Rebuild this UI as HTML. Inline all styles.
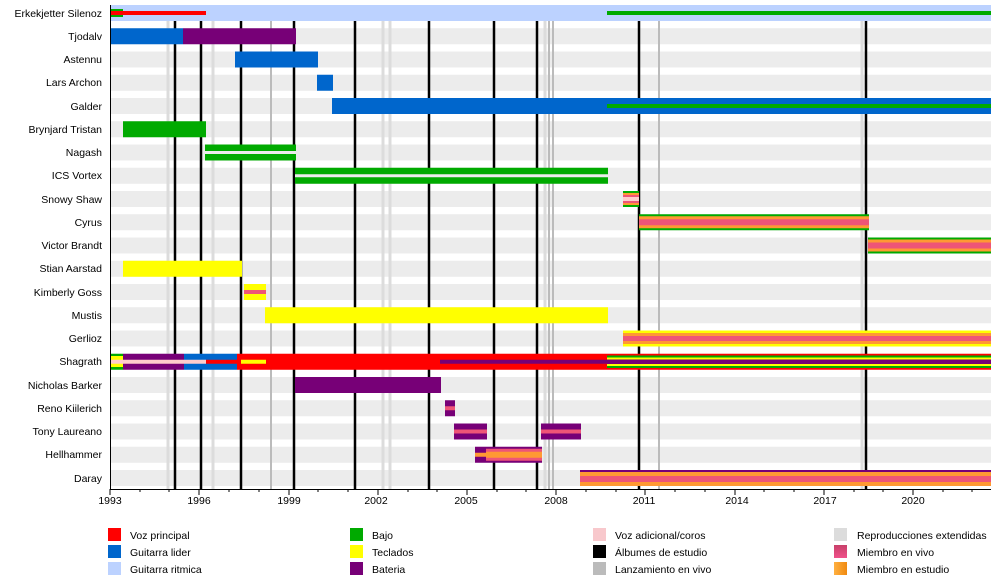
<!DOCTYPE html>
<html><head><meta charset="utf-8"><style>
body{margin:0;background:#fff;}
svg{display:block;font-family:"Liberation Sans",sans-serif;}
</style></head><body>
<svg width="1000" height="585" viewBox="0 0 1000 585" xmlns="http://www.w3.org/2000/svg">
<defs>
<linearGradient id="gLive" x1="0" y1="0" x2="0" y2="1"><stop offset="0" stop-color="#c8406a"/><stop offset="1" stop-color="#f0508a"/></linearGradient>
<linearGradient id="gStudio" x1="0" y1="0" x2="1" y2="0"><stop offset="0" stop-color="#ffb040"/><stop offset="1" stop-color="#f08a10"/></linearGradient>
</defs>
<!-- row bands -->
<g fill="#ececec">
<rect x="110" y="28.25" width="881" height="16"/><rect x="110" y="51.5" width="881" height="16"/><rect x="110" y="74.75" width="881" height="16"/><rect x="110" y="98" width="881" height="16"/><rect x="110" y="121.25" width="881" height="16"/><rect x="110" y="144.5" width="881" height="16"/><rect x="110" y="167.75" width="881" height="16"/><rect x="110" y="191" width="881" height="16"/><rect x="110" y="214.25" width="881" height="16"/><rect x="110" y="237.5" width="881" height="16"/><rect x="110" y="260.75" width="881" height="16"/><rect x="110" y="284" width="881" height="16"/><rect x="110" y="307.25" width="881" height="16"/><rect x="110" y="330.5" width="881" height="16"/><rect x="110" y="353.75" width="881" height="16"/><rect x="110" y="377" width="881" height="16"/><rect x="110" y="400.25" width="881" height="16"/><rect x="110" y="423.5" width="881" height="16"/><rect x="110" y="446.75" width="881" height="16"/><rect x="110" y="470" width="881" height="16"/>
</g>
<!-- EP lines -->
<g stroke="#dcdcdc" stroke-width="3">
<line x1="168" y1="5" x2="168" y2="489"/><line x1="213" y1="5" x2="213" y2="489"/><line x1="383" y1="5" x2="383" y2="489"/><line x1="390" y1="5" x2="390" y2="489"/><line x1="545" y1="5" x2="545" y2="489"/><line x1="862" y1="5" x2="862" y2="489"/>
</g>
<g stroke="#bbbbbb" stroke-width="2">
<line x1="271" y1="5" x2="271" y2="489"/><line x1="549" y1="5" x2="549" y2="489"/><line x1="553" y1="5" x2="553" y2="489"/><line x1="659" y1="5" x2="659" y2="489"/>
</g>
<g stroke="#000" stroke-width="2.5">
<line x1="175" y1="5" x2="175" y2="489"/><line x1="201" y1="5" x2="201" y2="489"/><line x1="241" y1="5" x2="241" y2="489"/><line x1="294" y1="5" x2="294" y2="489"/><line x1="355" y1="5" x2="355" y2="489"/><line x1="429" y1="5" x2="429" y2="489"/><line x1="494" y1="5" x2="494" y2="489"/><line x1="537" y1="5" x2="537" y2="489"/><line x1="639" y1="5" x2="639" y2="489"/><line x1="866" y1="5" x2="866" y2="489"/>
</g>
<!-- Row 0 Erkekjetter -->
<rect x="110" y="5" width="881" height="16" fill="#bcd2ff"/>
<rect x="110" y="9" width="13" height="8" fill="#00aa00"/>
<rect x="110" y="11" width="96" height="4" fill="#ff0000"/>
<rect x="607" y="11" width="384" height="4" fill="#00aa00"/>
<!-- Row1 Tjodalv -->
<rect x="110" y="28.25" width="73" height="16" fill="#0066cc"/>
<rect x="183" y="28.25" width="113" height="16" fill="#770077"/>
<!-- Row2 -->
<rect x="235" y="51.5" width="83" height="16" fill="#0066cc"/>
<!-- Row3 -->
<rect x="317" y="74.75" width="16" height="16" fill="#0066cc"/>
<!-- Row4 Galder -->
<rect x="332" y="98" width="659" height="16" fill="#0066cc"/>
<rect x="607" y="104" width="384" height="4" fill="#00aa00"/>
<!-- Row5 -->
<rect x="123" y="121.25" width="83" height="16" fill="#00aa00"/>
<!-- Row6 Nagash -->
<rect x="205" y="144.5" width="91" height="16" fill="#00aa00"/>
<rect x="205" y="151" width="91" height="3" fill="#ececec"/>
<!-- Row7 ICS -->
<rect x="295" y="167.75" width="313" height="16" fill="#00aa00"/>
<rect x="295" y="174.25" width="313" height="3" fill="#ececec"/>
<!-- Row8 Snowy -->
<rect x="623" y="191" width="16" height="16" fill="#00aa00"/>
<rect x="623" y="193" width="16" height="12" fill="#ff9933"/>
<rect x="623" y="195" width="16" height="8" fill="#ee5577"/>
<rect x="623" y="197" width="16" height="4" fill="#ffcccc"/>
<!-- Row9 Cyrus -->
<rect x="639" y="214.25" width="230" height="16" fill="#00aa00"/>
<rect x="639" y="216.25" width="230" height="12" fill="#ff9933"/>
<rect x="639" y="219.25" width="230" height="6" fill="#ee5577"/>
<!-- Row10 Victor -->
<rect x="868" y="237.5" width="123" height="16" fill="#00aa00"/>
<rect x="868" y="239.5" width="123" height="12" fill="#ff9933"/>
<rect x="868" y="242.5" width="123" height="6" fill="#ee5577"/>
<!-- Row11 Stian -->
<rect x="123" y="260.75" width="119" height="16" fill="#ffff00"/>
<!-- Row12 Kimberly -->
<rect x="244" y="284" width="22" height="16" fill="#ffff00"/>
<rect x="244" y="290" width="22" height="4" fill="#ee5577"/>
<!-- Row13 Mustis -->
<rect x="265" y="307.25" width="343" height="16" fill="#ffff00"/>
<!-- Row14 Gerlioz -->
<rect x="623" y="330.5" width="368" height="16" fill="#ffff00"/>
<rect x="623" y="333" width="368" height="11" fill="#ff9933"/>
<rect x="623" y="336" width="368" height="5" fill="#ee5577"/>
<!-- Row15 Shagrath -->
<rect x="110" y="353.75" width="13" height="16" fill="#00aa00"/>
<rect x="110" y="356" width="13" height="11" fill="#ffff00"/>
<rect x="110" y="359.75" width="13" height="4" fill="#ffcccc"/>
<rect x="123" y="353.75" width="61" height="16" fill="#770077"/>
<rect x="184" y="353.75" width="53" height="16" fill="#0066cc"/>
<rect x="237" y="353.75" width="370" height="16" fill="#ff0000"/>
<rect x="123" y="359.75" width="83" height="4" fill="#ffcccc"/>
<rect x="206" y="359.75" width="31" height="4" fill="#ff0000"/>
<rect x="241" y="359.75" width="25" height="4" fill="#ffff00"/>
<rect x="440" y="359.75" width="167" height="4" fill="#770077"/>
<rect x="607" y="353.75" width="384" height="16" fill="#ff0000"/>
<rect x="607" y="355.5" width="384" height="12.5" fill="#00aa00"/>
<rect x="607" y="357.5" width="384" height="8.5" fill="#ffff00"/>
<rect x="607" y="359.5" width="384" height="4.5" fill="#770077"/>
<!-- Row16 Nicholas -->
<rect x="295" y="377" width="146" height="16" fill="#770077"/>
<!-- Row17 Reno -->
<rect x="445" y="400.25" width="10" height="16" fill="#770077"/>
<rect x="445" y="406.25" width="10" height="4" fill="#ee5577"/>
<!-- Row18 Tony -->
<rect x="454" y="423.5" width="33" height="16" fill="#770077"/>
<rect x="454" y="429.5" width="33" height="4" fill="#ee5577"/>
<rect x="541" y="423.5" width="40" height="16" fill="#770077"/>
<rect x="541" y="429.5" width="40" height="4" fill="#ee5577"/>
<!-- Row19 Hellhammer -->
<rect x="475" y="446.75" width="67" height="16" fill="#770077"/>
<rect x="475" y="452.75" width="11" height="4" fill="#ff9933"/>
<rect x="486" y="448.75" width="56" height="12" fill="#ee5577"/>
<rect x="486" y="451.75" width="56" height="6" fill="#ff9933"/>
<!-- Row20 Daray -->
<rect x="580" y="470" width="411" height="16" fill="#770077"/>
<rect x="580" y="472" width="411" height="14" fill="#ff9933"/>
<rect x="580" y="476" width="411" height="6" fill="#ee5577"/>
<!-- axes -->
<line x1="110.5" y1="5" x2="110.5" y2="490" stroke="#000" stroke-width="1"/>
<line x1="110" y1="489.5" x2="991" y2="489.5" stroke="#000" stroke-width="1"/>
<g stroke="#000" stroke-width="1">
<line x1="110" y1="489" x2="110" y2="495"/><line x1="199" y1="489" x2="199" y2="495"/><line x1="289" y1="489" x2="289" y2="495"/><line x1="378" y1="489" x2="378" y2="495"/><line x1="467" y1="489" x2="467" y2="495"/><line x1="556" y1="489" x2="556" y2="495"/><line x1="645" y1="489" x2="645" y2="495"/><line x1="735" y1="489" x2="735" y2="495"/><line x1="824" y1="489" x2="824" y2="495"/><line x1="913" y1="489" x2="913" y2="495"/>
<line x1="140" y1="489" x2="140" y2="492"/><line x1="169" y1="489" x2="169" y2="492"/><line x1="229" y1="489" x2="229" y2="492"/><line x1="259" y1="489" x2="259" y2="492"/><line x1="318" y1="489" x2="318" y2="492"/><line x1="348" y1="489" x2="348" y2="492"/><line x1="408" y1="489" x2="408" y2="492"/><line x1="437" y1="489" x2="437" y2="492"/><line x1="497" y1="489" x2="497" y2="492"/><line x1="526" y1="489" x2="526" y2="492"/><line x1="586" y1="489" x2="586" y2="492"/><line x1="616" y1="489" x2="616" y2="492"/><line x1="675" y1="489" x2="675" y2="492"/><line x1="705" y1="489" x2="705" y2="492"/><line x1="764" y1="489" x2="764" y2="492"/><line x1="794" y1="489" x2="794" y2="492"/><line x1="854" y1="489" x2="854" y2="492"/><line x1="883" y1="489" x2="883" y2="492"/><line x1="943" y1="489" x2="943" y2="492"/><line x1="972" y1="489" x2="972" y2="492"/>
</g>
<g font-size="10.5" text-anchor="middle" fill="#000">
<text x="110" y="504">1993</text><text x="199" y="504">1996</text><text x="289" y="504">1999</text><text x="376" y="504">2002</text><text x="466" y="504">2005</text><text x="556" y="504">2008</text><text x="644" y="504">2011</text><text x="737" y="504">2014</text><text x="825" y="504">2017</text><text x="913" y="504">2020</text>
</g>
<g font-size="10.5" text-anchor="end" fill="#000">
<text x="102" y="17">Erkekjetter Silenoz</text><text x="102" y="40">Tjodalv</text><text x="102" y="63">Astennu</text><text x="102" y="86">Lars Archon</text><text x="102" y="110">Galder</text><text x="102" y="133">Brynjard Tristan</text><text x="102" y="156">Nagash</text><text x="102" y="179">ICS Vortex</text><text x="102" y="203">Snowy Shaw</text><text x="102" y="226">Cyrus</text><text x="102" y="249">Victor Brandt</text><text x="102" y="272">Stian Aarstad</text><text x="102" y="296">Kimberly Goss</text><text x="102" y="319">Mustis</text><text x="102" y="342">Gerlioz</text><text x="102" y="365">Shagrath</text><text x="102" y="389">Nicholas Barker</text><text x="102" y="412">Reno Kiilerich</text><text x="102" y="435">Tony Laureano</text><text x="102" y="458">Hellhammer</text><text x="102" y="482">Daray</text>
</g>
<!-- legend -->
<rect x="108" y="528" width="13" height="13" fill="#ff0000"/>
<rect x="108" y="545" width="13" height="13" fill="#0066cc"/>
<rect x="108" y="562" width="13" height="13" fill="#bcd2ff"/>
<rect x="350" y="528" width="13" height="13" fill="#00aa00"/>
<rect x="350" y="545" width="13" height="13" fill="#ffff00"/>
<rect x="350" y="562" width="13" height="13" fill="#770077"/>
<rect x="593" y="528" width="13" height="13" fill="#f8c8cc"/>
<rect x="593" y="545" width="13" height="13" fill="#000"/>
<rect x="593" y="562" width="13" height="13" fill="#bbbbbb"/>
<rect x="834" y="528" width="13" height="13" fill="#dcdcdc"/>
<rect x="834" y="545" width="13" height="13" fill="url(#gLive)"/>
<rect x="834" y="562" width="13" height="13" fill="url(#gStudio)"/>
<g font-size="10.5" fill="#000">
<text x="130" y="539">Voz principal</text><text x="130" y="556">Guitarra lider</text><text x="130" y="573">Guitarra ritmica</text>
<text x="372" y="539">Bajo</text><text x="372" y="556">Teclados</text><text x="372" y="573">Bateria</text>
<text x="615" y="539">Voz adicional/coros</text><text x="615" y="556">Álbumes de estudio</text><text x="615" y="573">Lanzamiento en vivo</text>
<text x="857" y="539">Reproducciones extendidas</text><text x="857" y="556">Miembro en vivo</text><text x="857" y="573">Miembro en estudio</text>
</g>
</svg>
</body></html>
